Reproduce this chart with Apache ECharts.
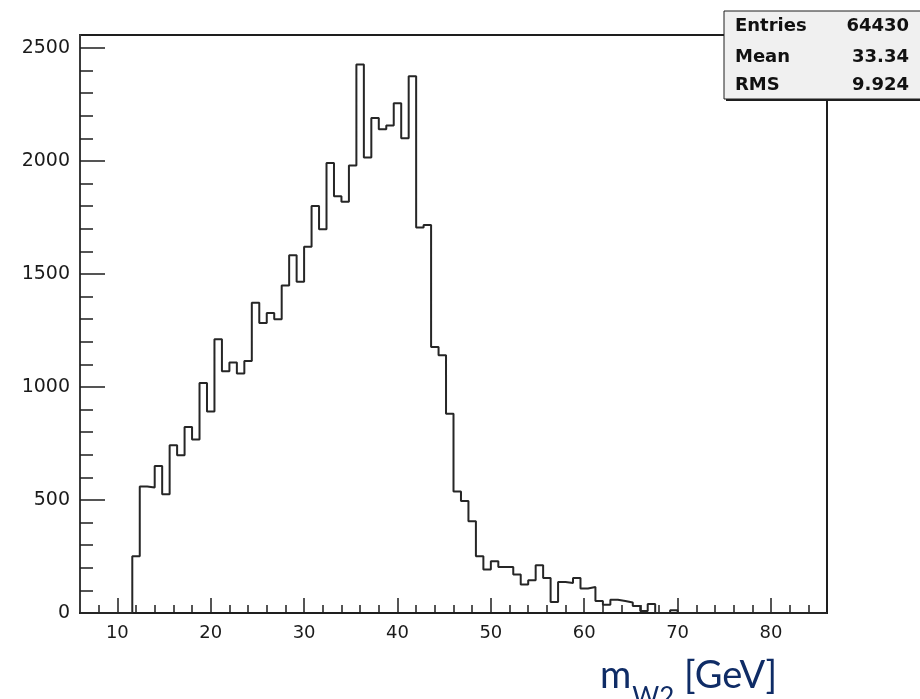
<!DOCTYPE html>
<html>
<head>
<meta charset="utf-8">
<script src="https://cdn.jsdelivr.net/npm/echarts@6/dist/echarts.min.js"></script>
<style>
  html, body { margin: 0; padding: 0; background: #ffffff; }
  #chart { width: 920px; height: 699px; }
</style>
</head>
<body>
<div id="chart"></div>
<script>
// Histogram binning: 100 bins of 0.8 GeV starting at 6 GeV
const binLow = 6;
const binWidth = 0.8;

// Entries per bin
const binCounts = [
  0, 0, 0, 0, 0, 0, 0, 251, 560, 555,
  650, 525, 742, 698, 823, 767, 1018, 891, 1211, 1069,
  1108, 1059, 1115, 1373, 1283, 1327, 1300, 1449, 1583, 1465,
  1620, 1801, 1698, 1991, 1844, 1819, 1980, 2426, 2015, 2190,
  2140, 2157, 2255, 2100, 2375, 1705, 1717, 1177, 1140, 882,
  538, 496, 406, 251, 192, 229, 204, 204, 170, 126,
  145, 211, 155, 49, 137, 133, 155, 108, 115, 53,
  37, 59, 53, 46, 31, 9, 40, 0, 0, 12,
  0, 0, 0, 0, 0, 0, 0, 0, 0, 0,
  0, 0, 0, 0, 0, 0, 0, 0, 0, 0
];

// Axis ranges and ticks
const xRange = [6, 86];
const yRange = [0, 2557];
const xMajorTicks = [10, 20, 30, 40, 50, 60, 70, 80];
const xMinorTicks = [8, 10, 12, 14, 16, 18, 20, 22, 24, 26, 28, 30, 32, 34, 36, 38, 40, 42, 44, 46,
                     48, 50, 52, 54, 56, 58, 60, 62, 64, 66, 68, 70, 72, 74, 76, 78, 80, 82, 84];
const yMajorTicks = [0, 500, 1000, 1500, 2000, 2500];
const yMinorTicks = [100, 200, 300, 400, 600, 700, 800, 900, 1100, 1200, 1300, 1400,
                     1600, 1700, 1800, 1900, 2100, 2200, 2300, 2400];

// Statistics box
const statNames = ['Entries', 'Mean', 'RMS'];
const statValues = ['64430', '33.34', '9.924'];

// Axis title pieces
const titleMain = 'm';
const titleSub = 'W2';
const titleUnit = '[GeV]';

// Step outline: one point per bin low edge, plus the closing upper edge
const stepPoints = binCounts.map((c, i) => [binLow + i * binWidth, c]);
stepPoints.push([binLow + binCounts.length * binWidth, 0]);

const frameColor = '#1e1e1e';
const labelColor = '#1a1a1a';
const titleColor = '#0f2c66';

const measureCtx = document.createElement('canvas').getContext('2d');
function textWidth(text, font) {
  measureCtx.font = font;
  return measureCtx.measureText(text).width;
}

const mainFont = '38px Lato';
const subFont = '26px Lato';
const titleX = 600;
const mW = textWidth(titleMain, mainFont);
const subW = textWidth(titleSub, subFont);
const spaceW = textWidth(' ', mainFont);

function baseAxis(range) {
  return {
    type: 'value',
    min: range[0],
    max: range[1],
    splitLine: { show: false },
    axisPointer: { show: false }
  };
}

const plainNumber = v => String(v);

const chart = echarts.init(document.getElementById('chart'), null, { renderer: 'canvas' });

chart.setOption({
  animation: false,
  backgroundColor: '#ffffff',
  grid: {
    left: 80, top: 35, width: 747, height: 578,
    show: true,
    borderColor: frameColor,
    borderWidth: 2,
    backgroundColor: 'transparent'
  },
  xAxis: [
    Object.assign(baseAxis(xRange), {
      position: 'bottom',
      axisLine: { show: true, onZero: false, lineStyle: { color: frameColor, width: 2 } },
      axisTick: { show: true, inside: true, length: 15, customValues: xMajorTicks,
                  lineStyle: { color: frameColor, width: 1.5 } },
      axisLabel: { show: true, customValues: xMajorTicks, margin: 11, formatter: plainNumber,
                   fontFamily: 'DejaVu Sans', fontSize: 18, color: labelColor }
    }),
    Object.assign(baseAxis(xRange), {
      position: 'bottom',
      axisLine: { show: false },
      axisTick: { show: true, inside: true, length: 8, customValues: xMinorTicks,
                  lineStyle: { color: frameColor, width: 1.5 } },
      axisLabel: { show: false, customValues: xMinorTicks }
    })
  ],
  yAxis: [
    Object.assign(baseAxis(yRange), {
      position: 'left',
      axisLine: { show: true, onZero: false, lineStyle: { color: '#3a3a3a', width: 2 } },
      axisTick: { show: true, inside: true, length: 25, customValues: yMajorTicks,
                  lineStyle: { color: frameColor, width: 1.5 } },
      axisLabel: { show: true, customValues: yMajorTicks, margin: 10, formatter: plainNumber,
                   fontFamily: 'DejaVu Sans', fontSize: 19, color: labelColor }
    }),
    Object.assign(baseAxis(yRange), {
      position: 'left',
      axisLine: { show: false },
      axisTick: { show: true, inside: true, length: 13, customValues: yMinorTicks,
                  lineStyle: { color: frameColor, width: 1.5 } },
      axisLabel: { show: false, customValues: yMinorTicks }
    })
  ],
  series: [{
    type: 'line',
    step: 'end',
    xAxisIndex: 0,
    yAxisIndex: 0,
    data: stepPoints,
    symbol: 'none',
    clip: false,
    lineStyle: { color: '#262626', width: 2 },
    z: 3
  }],
  graphic: [
    // statistics box with its drop shadow
    { type: 'rect', z: 100, shape: { x: 726, y: 13, width: 200, height: 88 },
      style: { fill: '#1e1e1e' } },
    { type: 'rect', z: 101, shape: { x: 724, y: 11, width: 200, height: 88 },
      style: { fill: '#f0f0f0', stroke: '#1e1e1e', lineWidth: 1 } },
    ...statNames.map((name, i) => ({
      type: 'text', z: 102, x: 735, y: [26.5, 57.5, 85.5][i],
      style: { text: name, fontFamily: 'DejaVu Sans', fontWeight: 'bold', fontSize: 18,
               fill: '#111', align: 'left', verticalAlign: 'middle' }
    })),
    ...statValues.map((val, i) => ({
      type: 'text', z: 102, x: 909, y: [26.5, 57.5, 85.5][i],
      style: { text: val, fontFamily: 'DejaVu Sans', fontWeight: 'bold', fontSize: 18,
               fill: '#111', align: 'right', verticalAlign: 'middle' }
    })),
    // x-axis title: m_{W2} [GeV]
    { type: 'text', z: 102, x: titleX, y: 676,
      style: { text: titleMain, font: mainFont, fill: titleColor, align: 'left', verticalAlign: 'middle' } },
    { type: 'text', z: 102, x: titleX + mW + 1, y: 698,
      style: { text: titleSub, font: subFont, fill: titleColor, align: 'left', verticalAlign: 'middle' } },
    { type: 'text', z: 102, x: titleX + mW + 1 + subW + spaceW, y: 676,
      style: { text: titleUnit, font: mainFont, fill: titleColor, align: 'left', verticalAlign: 'middle' } }
  ]
});
</script>
</body>
</html>
